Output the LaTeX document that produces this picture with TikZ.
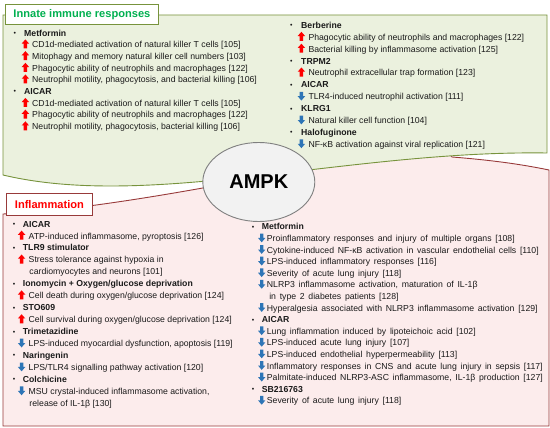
\documentclass[tikz,border=0pt]{standalone}
\usepackage{fontspec}
\setmainfont{Liberation Sans}
\definecolor{gfill}{HTML}{EBF1DE}
\definecolor{gline}{HTML}{77933C}
\definecolor{rfill}{HTML}{FCECEC}
\definecolor{rline}{HTML}{983A3A}
\definecolor{gtext}{HTML}{00B050}
\definecolor{rtext}{HTML}{FF0000}
\definecolor{upred}{HTML}{FF0000}
\definecolor{dnblue}{HTML}{2E75B6}
\definecolor{ellfill}{HTML}{F2F2F2}
\definecolor{ellline}{HTML}{7F7F7F}
\definecolor{bodytext}{HTML}{1A1A1A}
\newlength\hind \newlength\aind \newlength\awid \newlength\cind
\newcommand\setind[4]{\global\hind=#1\global\aind=#2\global\awid=#3\global\cind=#4\relax}
\newcommand\widesp{\spaceskip 3.7pt\relax}
\newcommand\uarr{\tikz[baseline=0pt,x=1pt,y=1pt]\fill[upred](2,-0.6)--(5.4,-0.6)--(5.4,4.2)--(7.4,4.2)--(3.7,8.4)--(0,4.2)--(2,4.2)--cycle;}
\newcommand\darr{\tikz[baseline=0pt,x=1pt,y=1pt]\fill[dnblue](2,7.9)--(5.4,7.9)--(5.4,3.5)--(7.4,3.5)--(3.7,-0.9)--(0,3.5)--(2,3.5)--cycle;}
\newcommand\hd[1]{\makebox[\hind][l]{\raisebox{0.6pt}{\scalebox{0.8}{\textbullet}}}\textbf{#1}}
\newcommand\ui[1]{\hspace*{\aind}\makebox[\awid][l]{\uarr}#1}
\newcommand\di[1]{\hspace*{\aind}\makebox[\awid][l]{\darr}#1}
\newcommand\ci[1]{\hspace*{\cind}#1}
\tikzset{
  greenarea/.style={draw=gline, fill=gfill, line width=0.9pt},
  redarea/.style={draw=rline, fill=rfill, line width=0.9pt},
  gtitle/.style={draw=gline, fill=white, line width=0.9pt, inner sep=0pt, minimum width=153pt, minimum height=20pt, text=gtext, font=\fontsize{11.1}{13}\selectfont\bfseries},
  rtitle/.style={draw=rline, fill=white, line width=0.9pt, inner sep=0pt, minimum width=86pt, minimum height=22pt, text=rtext, font=\fontsize{11.1}{13}\selectfont\bfseries},
  ampk/.style={ellipse, draw=ellline, fill=ellfill, line width=0.9pt, minimum width=112pt, minimum height=79pt, inner sep=0pt, font=\fontsize{20}{24}\selectfont\bfseries},
  col/.style={anchor=base west, align=left, inner sep=0pt, text=bodytext},
}
\usetikzlibrary{shapes.geometric}
\begin{document}
\begin{tikzpicture}[x=1pt,y=-1pt]
\useasboundingbox (0,0) rectangle (550,428);
% red area
\draw[redarea] (3,214) .. controls (60,212) and (150,198) .. (230,183) -- (260,150) -- (440,140) -- (452,157)
  .. controls (490,160) and (520,164) .. (549,170) -- (549,426) -- (3,426) -- cycle;
% green area
\draw[greenarea] (3,15) -- (547,15) -- (547,153) .. controls (350,150) and (150,210) .. (3,175) -- cycle;
% titles
\node[gtitle, anchor=north west] (innate) at (5,4) {Innate immune responses};
\node[rtitle, anchor=north west] (infl) at (6,193) {Inflammation};
\node[ampk] (ampk) at (258.8,182) {AMPK};
% innate left
\setind{10.7pt}{8.2pt}{10.5pt}{0pt}
\node[col, font=\fontsize{8.7}{11.7}\selectfont] (il) at (13.3,129.7) {%
\hd{Metformin}\\
\ui{CD1d-mediated activation of natural killer T cells [105]}\\
\ui{Mitophagy and memory natural killer cell numbers [103]}\\
\ui{Phagocytic ability of neutrophils and macrophages [122]}\\
\ui{Neutrophil motility, phagocytosis, and bacterial killing [106]}\\
\hd{AICAR}\\
\ui{CD1d-mediated activation of natural killer T cells [105]}\\
\ui{Phagocytic ability of neutrophils and macrophages [122]}\\
\ui{Neutrophil motility, phagocytosis, bacterial killing [106]}};
% innate right
\setind{11pt}{7.5pt}{10.8pt}{0pt}
\node[col, font=\fontsize{8.7}{11.9}\selectfont] (ir) at (290,147.3) {%
\hd{Berberine}\\
\ui{Phagocytic ability of neutrophils and macrophages [122]}\\
\ui{Bacterial killing by inflammasome activation [125]}\\
\hd{TRPM2}\\
\ui{Neutrophil extracellular trap formation [123]}\\
\hd{AICAR}\\
\di{TLR4-induced neutrophil activation [111]}\\
\hd{KLRG1}\\
\di{Natural killer cell function [104]}\\
\hd{Halofuginone}\\
\di{NF-κB activation against viral replication [121]}};
% inflammation left
\setind{10pt}{5pt}{10.8pt}{16.6pt}
\node[col, font=\fontsize{8.7}{11.95}\selectfont] (fl) at (12.7,406.3) {%
\hd{AICAR}\\
\ui{ATP-induced inflammasome, pyroptosis [126]}\\
\hd{TLR9 stimulator}\\
\ui{Stress tolerance against hypoxia in}\\
\ci{cardiomyocytes and neurons [101]}\\
\hd{Ionomycin + Oxygen/glucose deprivation}\\
\ui{Cell death during oxygen/glucose deprivation [124]}\\
\hd{STO609}\\
\ui{Cell survival during oxygen/glucose deprivation [124]}\\
\hd{Trimetazidine}\\
\di{LPS-induced myocardial dysfunction, apoptosis [119]}\\
\hd{Naringenin}\\
\di{LPS/TLR4 signalling pathway activation [120]}\\
\hd{Colchicine}\\
\di{MSU crystal-induced inflammasome activation,}\\
\ci{release of IL-1β [130]}};
% inflammation right
\setind{10pt}{6.2pt}{8.9pt}{17.5pt}
\node[col, font=\fontsize{8.7}{11.6}\selectfont\widesp] (fr) at (251.6,403.8) {%
\hd{Metformin}\\
\di{Proinflammatory responses and injury of multiple organs [108]}\\
\di{Cytokine-induced NF-κB activation in vascular endothelial cells [110]}\\
\di{LPS-induced inflammatory responses [116]}\\
\di{Severity of acute lung injury [118]}\\
\di{NLRP3 inflammasome activation, maturation of IL-1β}\\
\ci{in type 2 diabetes patients [128]}\\
\di{Hyperalgesia associated with NLRP3 inflammasome activation [129]}\\
\hd{AICAR}\\
\di{Lung inflammation induced by lipoteichoic acid [102]}\\
\di{LPS-induced acute lung injury [107]}\\
\di{LPS-induced endothelial hyperpermeability [113]}\\
\di{Inflammatory responses in CNS and acute lung injury in sepsis [117]}\\
\di{Palmitate-induced NLRP3-ASC inflammasome, IL-1β production [127]}\\
\hd{SB216763}\\
\di{Severity of acute lung injury [118]}};
\end{tikzpicture}
\end{document}
